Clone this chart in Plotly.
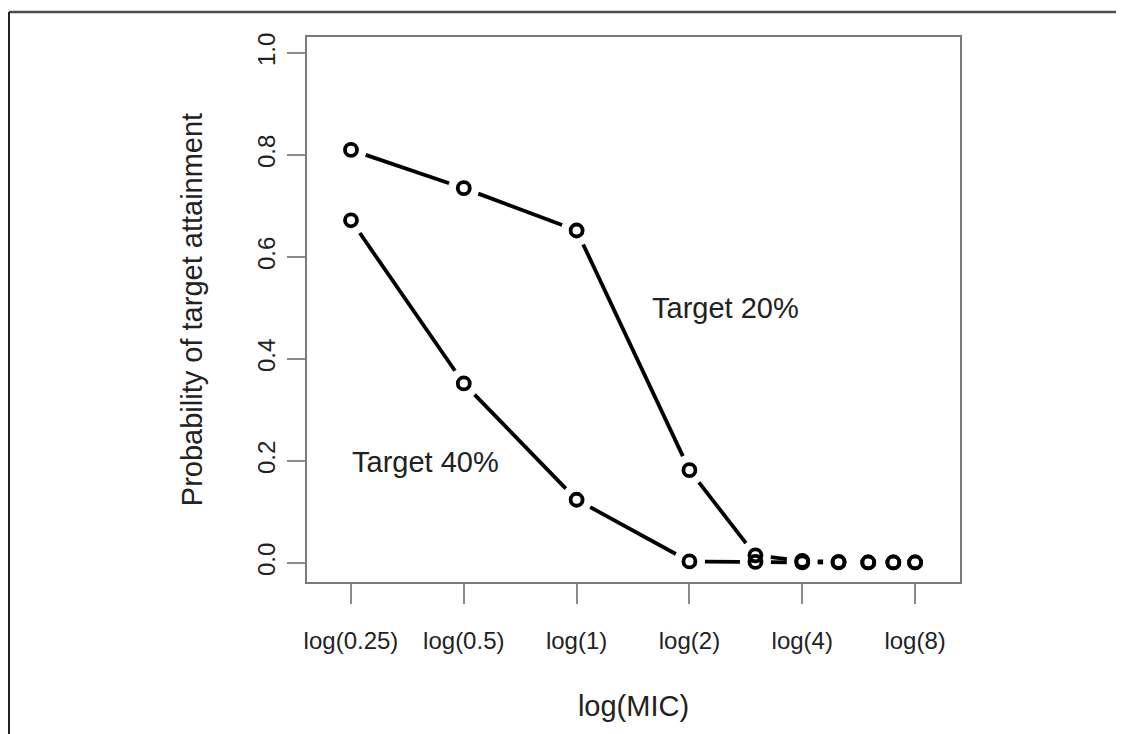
import math
import plotly.graph_objects as go

# ---- data ----
mic = [0.25, 0.5, 1, 2, 3, 4, 5, 6, 7, 8]
target20 = [0.810, 0.735, 0.652, 0.182, 0.015, 0.004, 0.002, 0.001, 0.001, 0.001]
target40 = [0.672, 0.352, 0.124, 0.003, 0.002, 0.001, 0.001, 0.001, 0.001, 0.001]
tick_vals = [0.25, 0.5, 1, 2, 4, 8]
tick_text = ["log(0.25)", "log(0.5)", "log(1)", "log(2)", "log(4)", "log(8)"]
label20 = "Target 20%"
label40 = "Target 40%"

# ---- layout geometry (page has an 8px body margin) ----
W, H = 1124, 734
ML, MT = 299, 29
PW, PH = 653, 545
MR, MB = W - ML - PW, H - MT - PH
XR = [-0.7194, 1.0230]      # log10 range
YR = [-0.0373, 1.0314]
GAP = 15.5                  # px gap around points (R type="b")


def to_px(x, y):
    px = (math.log10(x) - XR[0]) / (XR[1] - XR[0]) * PW
    py = (y - YR[0]) / (YR[1] - YR[0]) * PH
    return px, py


def to_data(px, py):
    lx = XR[0] + px / PW * (XR[1] - XR[0])
    y = YR[0] + py / PH * (YR[1] - YR[0])
    return 10 ** lx, y


def gapped(xs, ys):
    ox, oy = [], []
    for i in range(len(xs) - 1):
        p0 = to_px(xs[i], ys[i])
        p1 = to_px(xs[i + 1], ys[i + 1])
        dx, dy = p1[0] - p0[0], p1[1] - p0[1]
        d = math.hypot(dx, dy)
        if d <= 2 * GAP + 1:
            continue
        ux, uy = dx / d, dy / d
        a = to_data(p0[0] + GAP * ux, p0[1] + GAP * uy)
        b = to_data(p1[0] - GAP * ux, p1[1] - GAP * uy)
        ox += [a[0], b[0], None]
        oy += [a[1], b[1], None]
    return ox, oy


fig = go.Figure()
for ys, name in [(target20, label20), (target40, label40)]:
    lx, ly = gapped(mic, ys)
    fig.add_trace(go.Scatter(x=lx, y=ly, mode="lines", name=name,
                             line=dict(color="black", width=3.8),
                             showlegend=False, hoverinfo="skip"))
    fig.add_trace(go.Scatter(x=mic, y=ys, mode="markers", name=name,
                             marker=dict(symbol="circle-open", size=12, color="black",
                                         line=dict(width=3.8, color="black")),
                             showlegend=False))

font_family = "Liberation Sans, Arial, Helvetica, sans-serif"
text_col = "#222222"

fig.add_annotation(x=math.log10(2.49), y=0.50, text=label20, showarrow=False,
                   font=dict(size=29, color=text_col, family=font_family))
fig.add_annotation(x=math.log10(0.394), y=0.198, text=label40, showarrow=False,
                   font=dict(size=29, color=text_col, family=font_family))

# outer figure border (top and left edges visible)
x_left = (1 - ML) / PW
y_top = (MT + PH - 4) / PH
fig.add_shape(type="line", xref="paper", yref="paper", x0=x_left, x1=(W + 10 - ML) / PW,
              y0=y_top, y1=y_top, line=dict(color="#4d4d4d", width=2.5))
fig.add_shape(type="line", xref="paper", yref="paper", x0=x_left, x1=x_left,
              y0=y_top, y1=-(MB + 10) / PH, line=dict(color="#222222", width=2))

fig.update_layout(
    width=W, height=H,
    margin=dict(l=ML, r=MR, t=MT, b=MB, autoexpand=False),
    paper_bgcolor="white", plot_bgcolor="white",
    font=dict(family=font_family, color=text_col),
    xaxis=dict(type="log", range=XR, tickvals=tick_vals, ticktext=tick_text,
               showgrid=False, zeroline=False, showline=True, mirror=True,
               linecolor="#7a7a7a", linewidth=2, ticks="outside", ticklen=20,
               tickwidth=2, tickcolor="#8a8a8a", tickfont=dict(size=24),
               ticklabelstandoff=16, automargin=False,
               title=dict(text="log(MIC)", font=dict(size=29), standoff=43)),
    yaxis=dict(range=YR, tickvals=[0, 0.2, 0.4, 0.6, 0.8, 1.0],
               ticktext=["0.0", "0.2", "0.4", "0.6", "0.8", "1.0"],
               showgrid=False, zeroline=False, showline=True, mirror=True,
               linecolor="#7a7a7a", linewidth=2, ticks="outside", ticklen=18,
               tickwidth=2, tickcolor="#8a8a8a", tickfont=dict(size=24),
               tickangle=-90, ticklabelstandoff=2, automargin=False,
               title=dict(text="Probability of target attainment",
                          font=dict(size=29), standoff=42)),
)

fig.write_html("out.html")
